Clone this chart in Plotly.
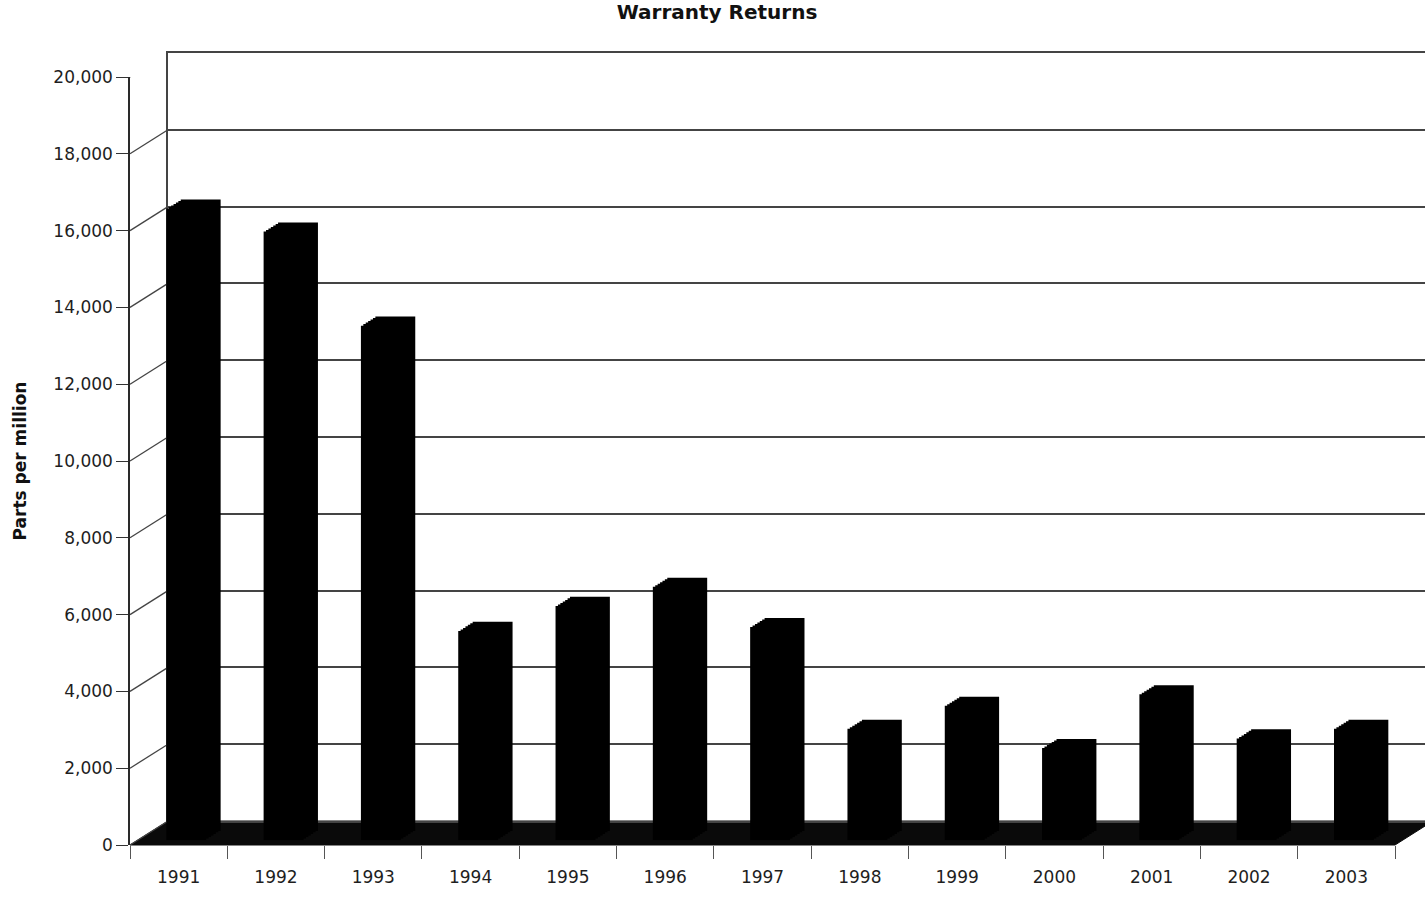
import plotly.graph_objects as go

# ---------------- data ----------------
years = ['1991', '1992', '1993', '1994', '1995', '1996', '1997',
         '1998', '1999', '2000', '2001', '2002', '2003']
ppm = [16450, 15850, 13400, 5450, 6100, 6600, 5550,
       2900, 3500, 2400, 3800, 2650, 2900]
y_ticks = [0, 2000, 4000, 6000, 8000, 10000, 12000, 14000, 16000, 18000, 20000]
title_text = 'Warranty Returns'
y_title = 'Parts per million'

# ---------------- geometry (pixels) ----------------
W, H = 1425, 900
FX0, FX1 = 130, 1395          # front plane left / right
ZERO_Y, TOP_Y = 845, 77       # front plane y of 0 and 20,000
DX, DY = 38, 24               # depth of the pseudo-3D box
F_FRONT, F_BACK = 0.20, 0.58  # depth span of the columns (fraction of box depth)
N_LAYERS = 7
YMAX = 20000
CW = (FX1 - FX0) / len(years)
GRID = '#444444'
FONT = 'DejaVu Sans'


def px(x):
    return x / W


def py(y):
    return 1 - y / H


fig = go.Figure()
layout = dict(
    width=W, height=H, autosize=False,
    margin=dict(l=0, r=0, t=0, b=0, autoexpand=False),
    paper_bgcolor='white', plot_bgcolor='rgba(0,0,0,0)',
    showlegend=False,
    font=dict(family=FONT, size=17, color='#1e1e1e'),
    title=dict(text='<b>' + title_text + '</b>', x=717 / W, xanchor='center',
               y=1 - 12 / H, yanchor='middle', automargin=False,
               font=dict(family=FONT, size=20, color='#111')),
)

# ---- front plane: value axis + category axis with labels ----
layout['xaxis'] = dict(
    domain=[px(FX0), px(FX1)], type='category', categoryorder='array',
    categoryarray=years, range=[-0.5, len(years) - 0.5], automargin=False,
    showgrid=False, zeroline=False, showline=False,
    ticks='outside', tickson='boundaries', ticklen=13, tickcolor='#555',
    ticklabelstandoff=20,
    tickfont=dict(family=FONT, size=17, color='#1e1e1e'), anchor='y',
)
layout['yaxis'] = dict(
    domain=[py(ZERO_Y), py(TOP_Y)], range=[0, YMAX], automargin=False,
    tickvals=y_ticks, tickformat=',', ticks='outside', ticklen=12,
    tickcolor='#333', showline=True, linecolor='#2a2a2a', linewidth=1.5,
    showgrid=False, zeroline=False,
    tickfont=dict(family=FONT, size=17, color='#1e1e1e'),
    title=dict(text='<b>' + y_title + '</b>', standoff=22,
               font=dict(family=FONT, size=17, color='#111')),
    anchor='x',
)
fig.add_trace(go.Scatter(x=years, y=ppm, mode='markers', marker=dict(opacity=0),
                         hoverinfo='skip', xaxis='x', yaxis='y'))

# ---- back wall with gridlines ----
back_x0 = FX0 + DX
layout['xaxis2'] = dict(
    domain=[px(back_x0), 1], type='category', categoryorder='array',
    categoryarray=years, range=[-0.5, -0.5 + (W - back_x0) / CW], automargin=False,
    showgrid=False, zeroline=False, showticklabels=False, ticks='',
    showline=True, mirror=True, linecolor=GRID, linewidth=1.5, anchor='y2',
)
layout['yaxis2'] = dict(
    domain=[py(ZERO_Y - DY), py(TOP_Y - DY)], range=[0, YMAX], automargin=False,
    tickvals=y_ticks, showticklabels=False, ticks='',
    showgrid=True, gridcolor=GRID, gridwidth=1.5, zeroline=False,
    showline=True, linecolor=GRID, linewidth=1.5, anchor='x2',
)
fig.add_trace(go.Scatter(x=years, y=ppm, mode='markers', marker=dict(opacity=0),
                         hoverinfo='skip', xaxis='x2', yaxis='y2'))

# ---- columns: stacked depth layers give the extruded look ----
for i in range(N_LAYERS):
    f = F_BACK - (F_BACK - F_FRONT) * i / (N_LAYERS - 1)
    k = i + 3
    layout['xaxis%d' % k] = dict(
        domain=[px(FX0 + f * DX), px(FX1 + f * DX)], type='category',
        categoryorder='array', categoryarray=years,
        range=[-0.5, len(years) - 0.5], visible=False, anchor='y%d' % k,
    )
    layout['yaxis%d' % k] = dict(
        domain=[py(ZERO_Y - f * DY), py(TOP_Y - f * DY)], range=[0, YMAX],
        visible=False, anchor='x%d' % k,
    )
    fig.add_trace(go.Bar(x=years, y=ppm, width=0.41,
                         marker=dict(color='black', line=dict(width=0)),
                         hoverinfo='skip', xaxis='x%d' % k, yaxis='y%d' % k))

# ---- decorations: floor and left side wall ----
shapes = []
floor_path = 'M {a},{b} L {c},{b} L {d},{e} L {f},{e} Z'.format(
    a=px(FX0), b=py(ZERO_Y), c=px(FX1), d=px(FX1 + DX), e=py(ZERO_Y - DY), f=px(FX0 + DX))
shapes.append(dict(type='path', xref='paper', yref='paper', path=floor_path,
                   fillcolor='#0a0a0a', line=dict(color='#0a0a0a', width=1), layer='below'))
for v in y_ticks:
    shapes.append(dict(type='line', xref='paper', yref='y', ysizemode='pixel', yanchor=v,
                       x0=px(FX0), x1=px(FX0 + DX), y0=0, y1=DY,
                       line=dict(color=GRID, width=1.3), layer='below'))
layout['shapes'] = shapes

fig.update_layout(**layout)
fig.write_html('out.html')
